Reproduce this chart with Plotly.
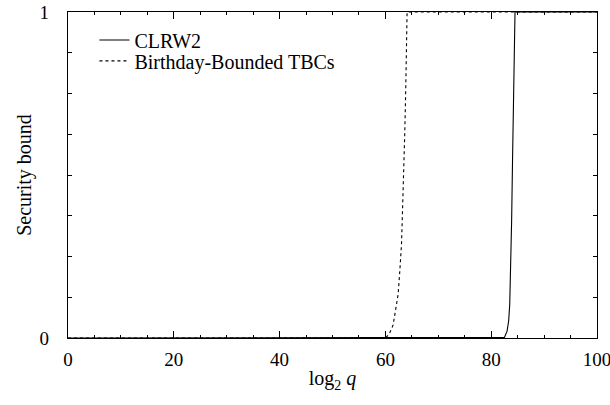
import plotly.graph_objects as go

# Data
clrw2_x = [0, 81.5, 81.9, 82.5, 83.0, 83.3, 83.5, 83.67, 83.86, 84.05, 84.24, 84.43, 84.5, 100]
clrw2_y = [0, 0, 0.0, 0.002, 0.021, 0.052, 0.103, 0.205, 0.358, 0.562, 0.736, 0.919, 1.0, 1.0]

bday_x = [0, 60.0, 60.2, 60.83, 61.46, 61.91, 62.40, 62.72, 63.04, 63.23, 63.48, 63.67, 63.85, 63.99, 64.1, 100]
bday_y = [0, 0, 0.003, 0.016, 0.04, 0.082, 0.133, 0.205, 0.286, 0.388, 0.511, 0.634, 0.767, 0.889, 1.0, 1.0]

x_tick_vals = [0, 20, 40, 60, 80, 100]
x_tick_text = ["0", "20", "40", "60", "80", "100"]
x_mid_ticks = [10, 30, 50, 70, 90]
y_tick_vals = [0, 1]
y_tick_text = ["0", "1"]

FONT = "Liberation Serif"

fig = go.Figure()
fig.add_trace(go.Scatter(x=clrw2_x, y=clrw2_y, mode="lines", name="CLRW2",
                         line=dict(color="black", width=1.1), legend="legend"))
fig.add_trace(go.Scatter(x=bday_x, y=bday_y, mode="lines", name="Birthday-Bounded TBCs",
                         line=dict(color="black", width=1.1, dash="3px,3px"), legend="legend2"))

axis_common = dict(showline=True, linecolor="black", linewidth=1.2, mirror="ticks",
                   ticks="inside", tickcolor="black", showgrid=False, zeroline=False,
                   automargin=False, ticklabeloverflow="allow",
                   tickfont=dict(family=FONT, size=19, color="black"))

legend_common = dict(xanchor="left", yanchor="middle", bgcolor="rgba(0,0,0,0)",
                     font=dict(family=FONT, size=20, color="black"), itemwidth=30,
                     borderwidth=0)

fig.update_layout(
    width=610, height=405,
    margin=dict(l=68, r=13, t=12, b=67, autoexpand=False),
    paper_bgcolor="white", plot_bgcolor="white",
    font=dict(family=FONT, size=19, color="black"),
    xaxis=dict(range=[0, 100], tickmode="array", tickvals=x_tick_vals, ticktext=x_tick_text,
               ticklen=7, tickwidth=1,
               minor=dict(dtick=5, ticklen=3, ticks="inside", tickcolor="black", tickwidth=1),
               title=dict(text="log<sub>2</sub> <i>q</i>", standoff=2,
                          font=dict(family=FONT, size=20)),
               ticklabelstandoff=4,
               **axis_common),
    xaxis2=dict(range=[0, 100], overlaying="x", anchor="y", tickmode="array",
                tickvals=x_mid_ticks, showticklabels=False, ticks="inside", ticklen=4,
                tickcolor="black", mirror="ticks", showline=False, showgrid=False,
                zeroline=False, side="bottom", automargin=False),
    yaxis=dict(range=[0, 1], tickmode="array", tickvals=y_tick_vals, ticktext=y_tick_text,
               ticklen=7, tickwidth=1,
               minor=dict(dtick=0.125, ticklen=4, ticks="inside", tickcolor="black", tickwidth=1),
               title=dict(text="Security bound", standoff=2,
                          font=dict(family=FONT, size=20)),
               ticklabelstandoff=14,
               **axis_common),
    legend=dict(x=0.05, y=0.914, **legend_common),
    legend2=dict(x=0.05, y=0.85, **legend_common),
    showlegend=True,
)

fig.write_html("out.html", config={"displayModeBar": False},
               post_script="document.body.style.margin='0px';")
